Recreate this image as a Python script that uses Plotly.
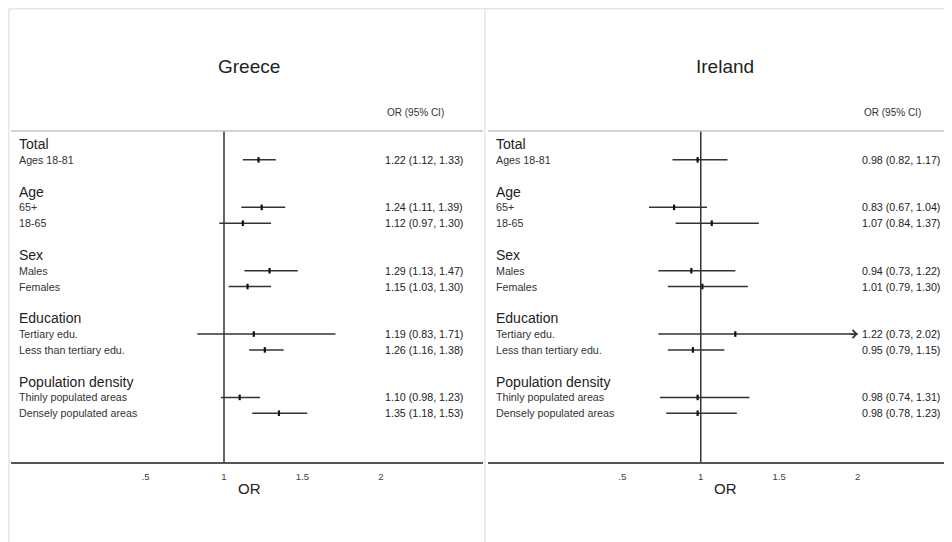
import plotly.graph_objects as go

# ---------------- data ----------------
panels = ["Greece", "Ireland"]
groups = ["Total", "Age", "Sex", "Education", "Population density"]
group_items = [
    ["Ages 18-81"],
    ["65+", "18-65"],
    ["Males", "Females"],
    ["Tertiary edu.", "Less than tertiary edu."],
    ["Thinly populated areas", "Densely populated areas"],
]

greece_or = [1.22, 1.24, 1.12, 1.29, 1.15, 1.19, 1.26, 1.10, 1.35]
greece_lo = [1.12, 1.11, 0.97, 1.13, 1.03, 0.83, 1.16, 0.98, 1.18]
greece_hi = [1.33, 1.39, 1.30, 1.47, 1.30, 1.71, 1.38, 1.23, 1.53]

ireland_or = [0.98, 0.83, 1.07, 0.94, 1.01, 1.22, 0.95, 0.98, 0.98]
ireland_lo = [0.82, 0.67, 0.84, 0.73, 0.79, 0.73, 0.79, 0.74, 0.78]
ireland_hi = [1.17, 1.04, 1.37, 1.22, 1.30, 2.02, 1.15, 1.31, 1.23]

tick_vals = [0.5, 1, 1.5, 2]
tick_text = [".5", "1", "1.5", "2"]
x_clip = 2.0
null_value = 1
col_header = "OR (95% CI)"
x_title = "OR"

# ---------------- layout helpers ----------------
OFF = 8  # default page margin of the browser
W, H = 952 - OFF, 542 - OFF
FONT = "Liberation Sans"


def px_x(p):
    return (p - OFF) / W


def px_y(p):
    return 1 - (p - OFF) / H


# slot positions (rows) for headers and items
header_slots = []
item_slots = []
item_labels = []
s = 0
for g, items in zip(groups, group_items):
    header_slots.append(s)
    s += 1
    for it in items:
        item_slots.append(s)
        item_labels.append(it)
        s += 1
    s += 1

panel_data = [
    (greece_or, greece_lo, greece_hi),
    (ireland_or, ireland_lo, ireland_hi),
]

x_domains = [[px_x(11), px_x(483)], [px_x(488), 1.0]]
x_ranges = [[-0.357, 2.650], [-0.355, 2.600]]
y_domain = [px_y(462), px_y(131)]
y_range = [20.08, -0.821]

fig = go.Figure()
annotations = []
shapes = []

for i, (name, (est, lo, hi)) in enumerate(zip(panels, panel_data)):
    xa = "x" if i == 0 else "x2"
    ya = "y" if i == 0 else "y2"
    plus = [min(h, x_clip) - e for e, h in zip(est, hi)]
    minus = [e - l for e, l in zip(est, lo)]
    fig.add_trace(go.Scatter(
        x=est, y=item_slots, xaxis=xa, yaxis=ya, mode="markers",
        marker=dict(symbol="line-ns", size=4, color="#111",
                    line=dict(width=2.2, color="#111")),
        error_x=dict(type="data", symmetric=False, array=plus, arrayminus=minus,
                     thickness=1.5, width=0, color="#333"),
        hoverinfo="skip", showlegend=False,
    ))
    # arrows for clipped intervals
    for e, h, sl in zip(est, hi, item_slots):
        if h > x_clip:
            annotations.append(dict(
                x=x_clip, y=sl, ax=x_clip - 0.06, ay=sl, xref=xa, yref=ya,
                axref=xa, ayref=ya, text="", showarrow=True, arrowhead=4,
                arrowsize=1.3, arrowwidth=1.2, arrowcolor="#333"))
    # null line
    shapes.append(dict(type="line", xref=xa, yref=ya + " domain",
                       x0=null_value, x1=null_value, y0=0, y1=1,
                       line=dict(color="#333", width=1.5)))
    # group headers
    for g, sl in zip(groups, header_slots):
        annotations.append(dict(x=-0.318, y=sl, xref=xa, yref=ya, text=g,
                                showarrow=False, xanchor="left", yanchor="middle",
                                font=dict(family=FONT, size=14, color="#222")))
    # item labels and values
    for lab, sl, e, l, h in zip(item_labels, item_slots, est, lo, hi):
        annotations.append(dict(x=-0.318, y=sl, xref=xa, yref=ya, text=lab,
                                showarrow=False, xanchor="left", yanchor="middle",
                                font=dict(family=FONT, size=10.7, color="#333")))
        annotations.append(dict(x=2.538, y=sl, xref=xa, yref=ya,
                                text=f"{e:.2f} ({l:.2f}, {h:.2f})",
                                showarrow=False, xanchor="right", yanchor="middle",
                                font=dict(family=FONT, size=10.7, color="#222")))
    # titles
    annotations.append(dict(x=1.157, y=px_y(66), xref=xa, yref="paper", text=name,
                            showarrow=False, xanchor="center", yanchor="middle",
                            font=dict(family=FONT, size=19, color="#222")))
    annotations.append(dict(x=2.223, y=px_y(112), xref=xa, yref="paper", text=col_header,
                            showarrow=False, xanchor="center", yanchor="middle",
                            font=dict(family=FONT, size=10, color="#333")))
    annotations.append(dict(x=1.16, y=px_y(488), xref=xa, yref="paper", text=x_title,
                            showarrow=False, xanchor="center", yanchor="middle",
                            font=dict(family=FONT, size=15, color="#222")))
    # header separator line
    shapes.append(dict(type="line", xref="paper", yref="paper",
                       x0=x_domains[i][0], x1=x_domains[i][1],
                       y0=px_y(131), y1=px_y(131),
                       line=dict(color="#c4c4c4", width=1.5)))

# outer light borders
border = dict(color="#e6e6e6", width=1.5)
shapes += [
    dict(type="line", xref="paper", yref="paper", x0=px_x(8.8), x1=1,
         y0=px_y(8.8), y1=px_y(8.8), line=border),
    dict(type="line", xref="paper", yref="paper", x0=px_x(8.8), x1=px_x(8.8),
         y0=0, y1=px_y(8.8), line=border),
    dict(type="line", xref="paper", yref="paper", x0=px_x(485), x1=px_x(485),
         y0=0, y1=px_y(8.8), line=border),
]

axis_common = dict(
    tickmode="array", tickvals=tick_vals, ticktext=tick_text,
    showgrid=False, zeroline=False, showline=True, linecolor="#555", linewidth=2,
    ticks="outside", ticklen=4, tickcolor="rgba(0,0,0,0)",
    tickfont=dict(family=FONT, size=9.6, color="#444"), fixedrange=True,
)
yaxis_common = dict(range=y_range, domain=y_domain, visible=False,
                    showgrid=False, zeroline=False, fixedrange=True)

fig.update_layout(
    width=W, height=H, margin=dict(l=0, r=0, t=0, b=0),
    paper_bgcolor="white", plot_bgcolor="white",
    xaxis=dict(domain=x_domains[0], range=x_ranges[0], anchor="y", **axis_common),
    xaxis2=dict(domain=x_domains[1], range=x_ranges[1], anchor="y2", **axis_common),
    yaxis=dict(anchor="x", **yaxis_common),
    yaxis2=dict(anchor="x2", **yaxis_common),
    annotations=annotations, shapes=shapes, showlegend=False,
)

fig.write_html("out.html")
